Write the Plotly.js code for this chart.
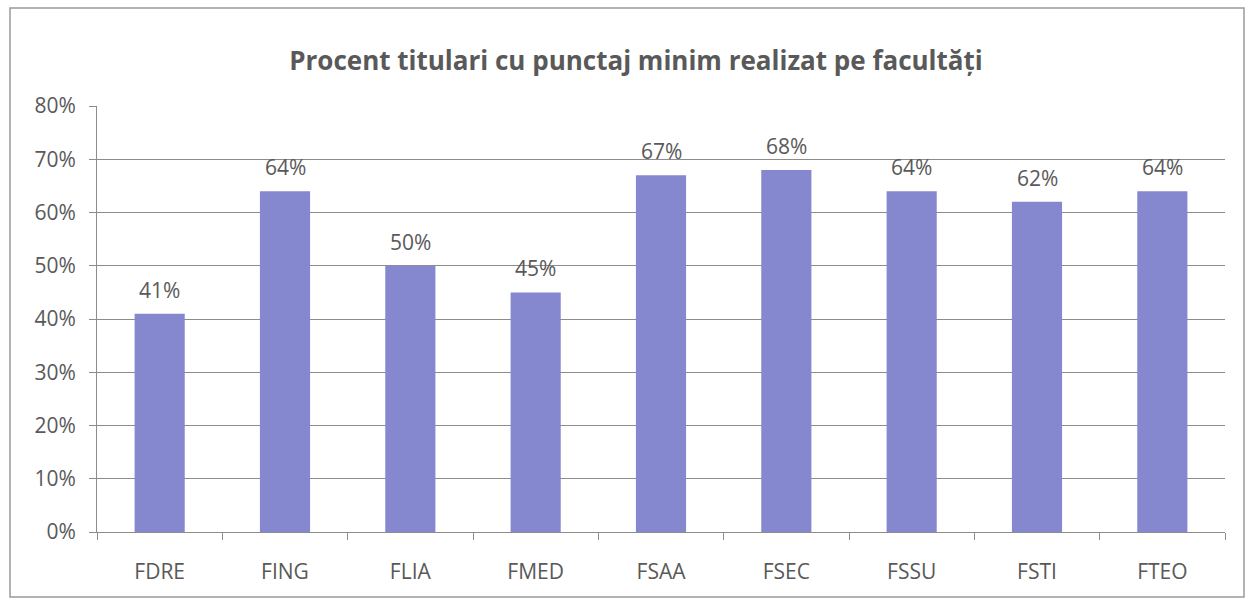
<!DOCTYPE html>
<html>
<head>
<meta charset="utf-8">
<script src="https://cdn.plot.ly/plotly-3.0.1.min.js"></script>
<style>html,body{margin:0;padding:0;background:#fff;}#chart{width:1247px;height:601px;}</style>
</head>
<body>
<div id="chart"></div>
<script>
var categories = ["FDRE", "FING", "FLIA", "FMED", "FSAA", "FSEC", "FSSU", "FSTI", "FTEO"];
var values = [0.41, 0.64, 0.50, 0.45, 0.67, 0.68, 0.64, 0.62, 0.64];
var labels = ["41%", "64%", "50%", "45%", "67%", "68%", "64%", "62%", "64%"];
var titleText = "Procent titulari cu punctaj minim realizat pe facultăți";

var font = "Open Sans, sans-serif";
var textGrey = "#595959";

var trace = {
  type: "bar",
  x: categories,
  y: values,
  marker: {color: "#8588cf"},
  hoverinfo: "none"
};

var annotations = categories.map(function (c, i) {
  return {
    x: c, y: values[i], xref: "x", yref: "y",
    text: labels[i], showarrow: false,
    yanchor: "bottom", yshift: 8,
    font: {family: font, size: 21, color: textGrey}
  };
});

var layout = {
  width: 1247,
  height: 601,
  margin: {l: 97, r: 22, t: 106, b: 69},
  paper_bgcolor: "#ffffff",
  plot_bgcolor: "#ffffff",
  bargap: 0.6,
  showlegend: false,
  title: {
    text: "<b>" + titleText + "</b>",
    font: {family: font, size: 26, color: textGrey},
    x: 0.51, xanchor: "center",
    y: 1 - 61 / 601, yanchor: "middle", yref: "container"
  },
  xaxis: {
    showline: true, linecolor: "#8c8c8c", linewidth: 1,
    ticks: "outside", tickson: "boundaries", ticklen: 7, tickcolor: "#8c8c8c",
    ticklabelstandoff: 21,
    tickfont: {family: font, size: 21, color: textGrey},
    showgrid: false
  },
  yaxis: {
    range: [0, 0.8], dtick: 0.1, tickformat: ".0%",
    showline: true, linecolor: "#8c8c8c", linewidth: 1,
    ticks: "outside", ticklen: 7, tickcolor: "#8c8c8c",
    ticklabelstandoff: 9,
    showgrid: true, gridcolor: "#8c8c8c", gridwidth: 1,
    zeroline: false,
    tickfont: {family: font, size: 21, color: textGrey}
  },
  annotations: annotations,
  shapes: [{
    type: "rect", xref: "paper", yref: "paper",
    x0: (10 - 97) / 1128, x1: (1244 - 97) / 1128,
    y0: (532 - 597) / 426, y1: (532 - 8) / 426,
    line: {color: "#9a9a9a", width: 1.5}, fillcolor: "rgba(0,0,0,0)", layer: "below"
  }]
};

Plotly.newPlot("chart", [trace], layout, {staticPlot: true, displayModeBar: false});
</script>
</body>
</html>
